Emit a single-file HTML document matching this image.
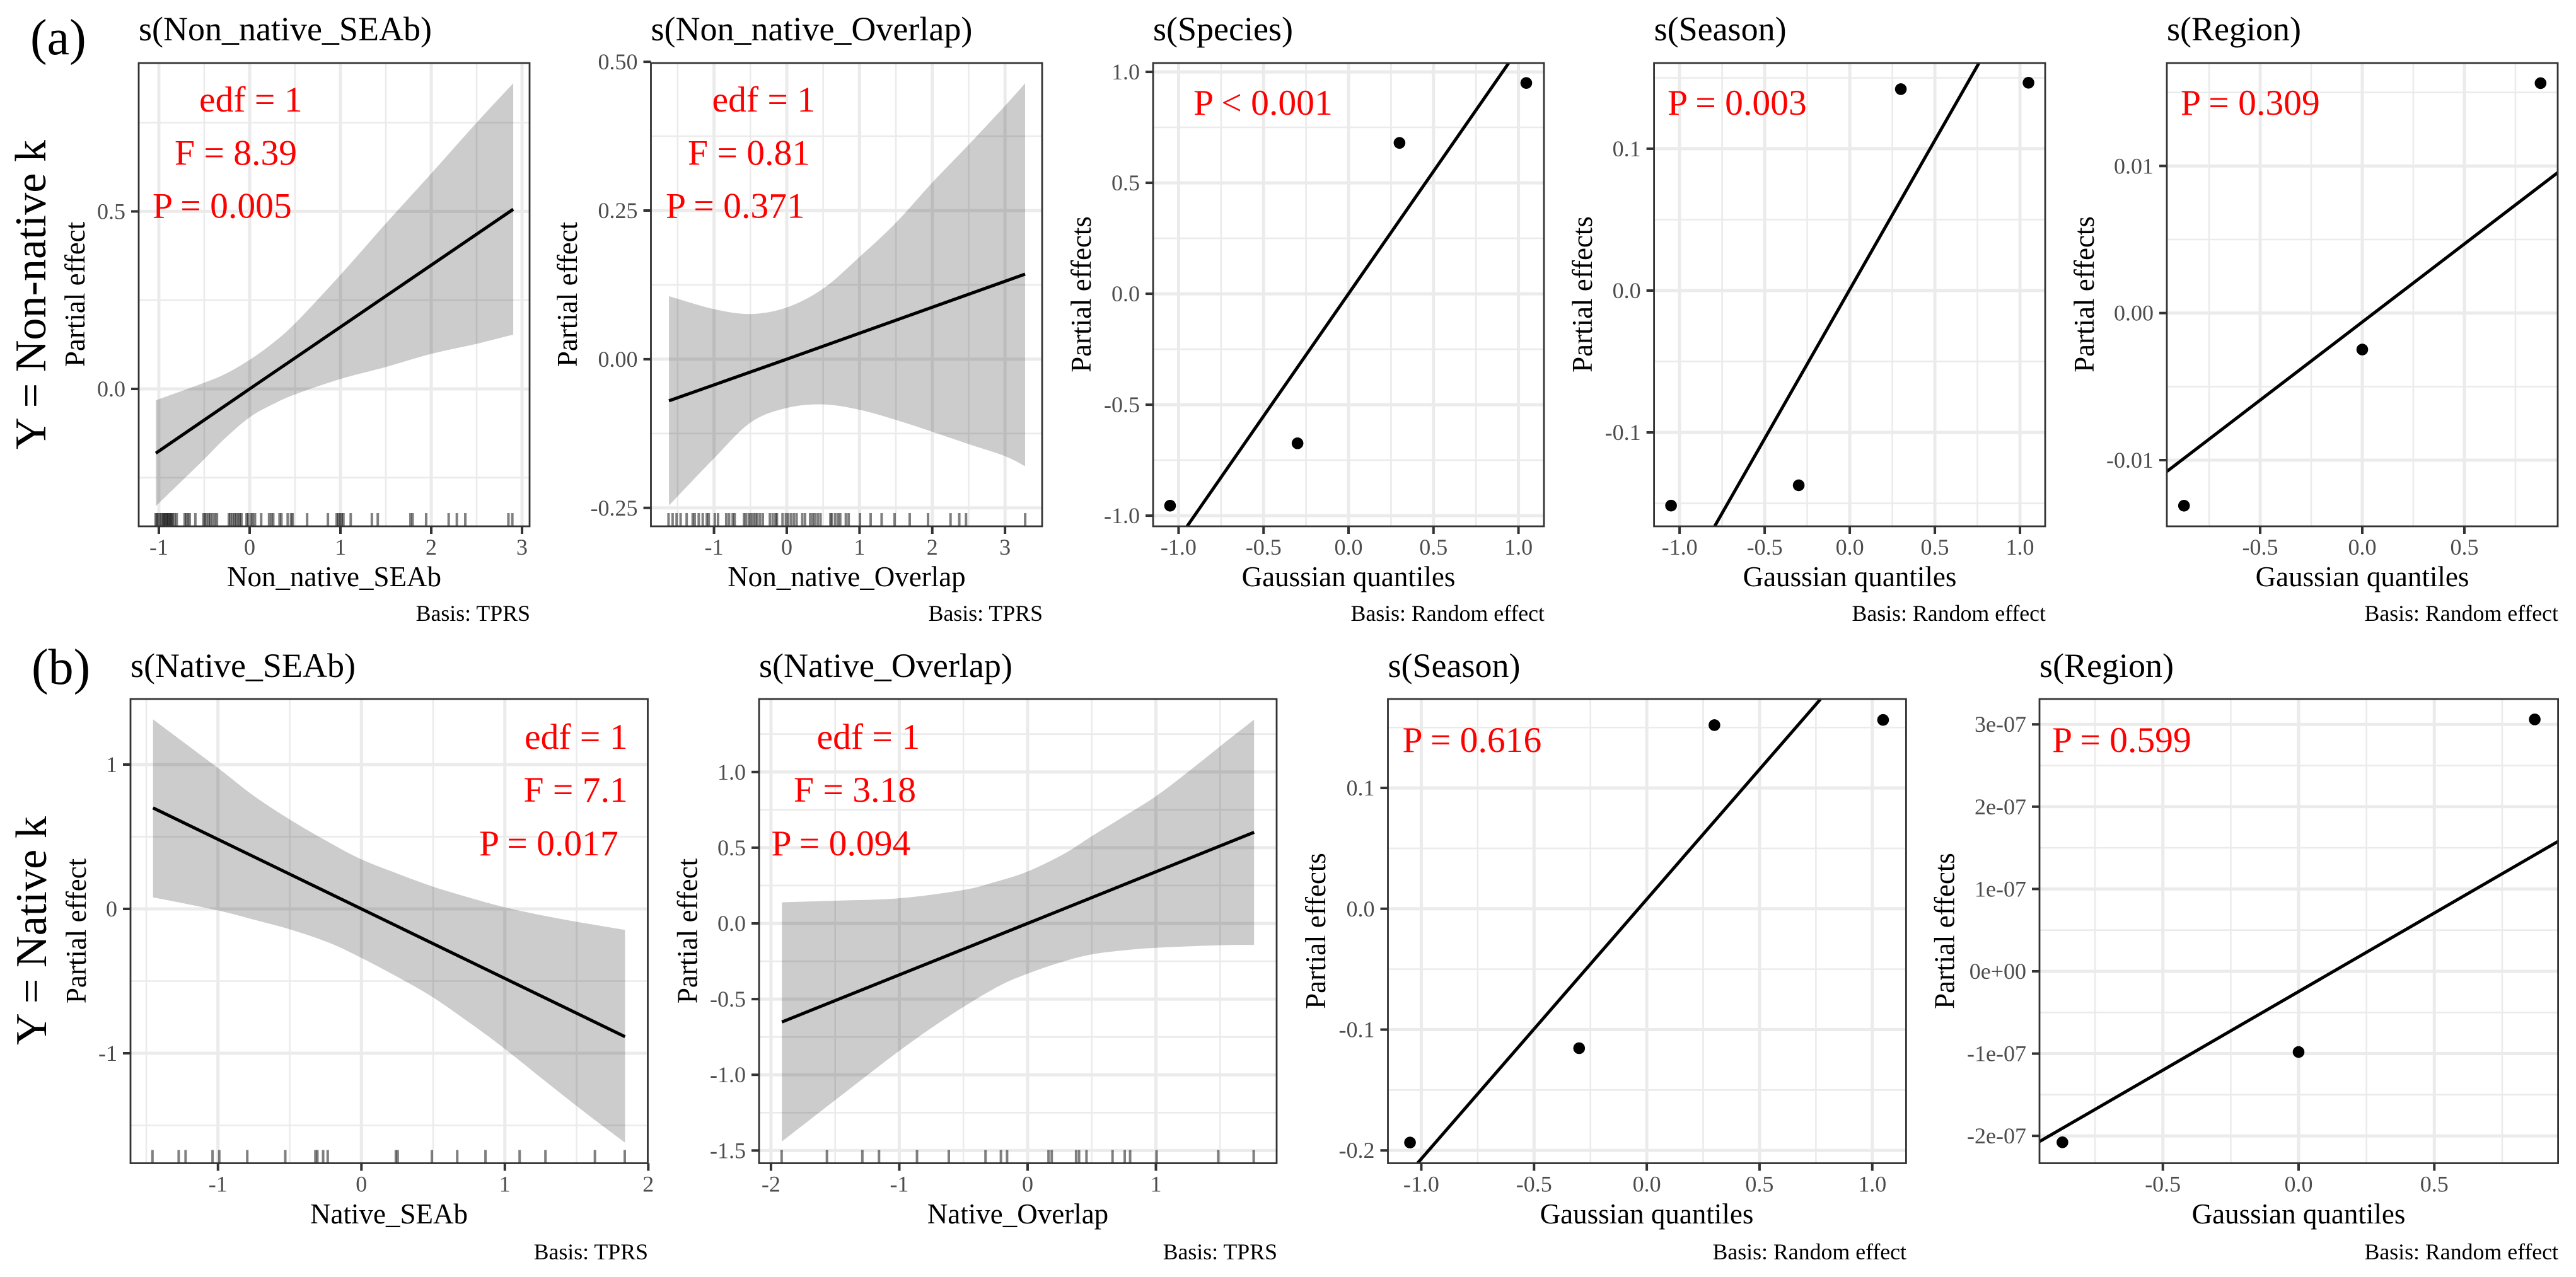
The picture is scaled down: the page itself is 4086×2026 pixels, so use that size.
<!DOCTYPE html>
<html lang="en">
<head>
<meta charset="utf-8">
<title>GAM partial effects</title>
<style>
html,body{margin:0;padding:0;background:#fff;width:4086px;height:2026px;overflow:hidden}
svg{display:block}
text{font-family:"Liberation Serif","Times New Roman",serif}
.ttl{font-size:54px;fill:#000}
.axt{font-size:45px;fill:#000}
.cap{font-size:35.8px;fill:#000;text-anchor:end}
.ann{font-size:57.6px;fill:#ff0000}
.big{font-size:80px;fill:#000}
.row{font-size:70px;fill:#000}
</style>
</head>
<body>
<svg id="figure" xmlns="http://www.w3.org/2000/svg" width="4086" height="2026" viewBox="0 0 4086 2026">
<rect width="4086" height="2026" fill="#fff"/>

<text class="big" x="48" y="86">(a)</text>
<text class="big" x="50" y="1085">(b)</text>
<text class="row" transform="translate(72,713) rotate(-90)" textLength="491" lengthAdjust="spacingAndGlyphs">Y = Non-native k</text>
<text class="row" transform="translate(73,1658) rotate(-90)" textLength="363" lengthAdjust="spacingAndGlyphs">Y = Native k</text>

<g id="p1">
  <g id="p1-marks"></g>
  <text class="ttl" x="220" y="64">s(Non_native_SEAb)</text>
  <text class="axt" x="530" y="930" text-anchor="middle">Non_native_SEAb</text>
  <text class="axt" transform="translate(134,467) rotate(-90)" text-anchor="middle">Partial effect</text>
  <text class="cap" x="841" y="985">Basis: TPRS</text>
  <text class="ann" x="316" y="177">edf = 1</text>
  <text class="ann" x="277" y="261.5">F = 8.39</text>
  <text class="ann" x="242" y="345.7">P = 0.005</text>
</g>

<g id="p2">
  <g id="p2-marks"></g>
  <text class="ttl" x="1032.5" y="64">s(Non_native_Overlap)</text>
  <text class="axt" x="1343" y="930" text-anchor="middle">Non_native_Overlap</text>
  <text class="axt" transform="translate(915,467) rotate(-90)" text-anchor="middle">Partial effect</text>
  <text class="cap" x="1654" y="985">Basis: TPRS</text>
  <text class="ann" x="1129.5" y="177">edf = 1</text>
  <text class="ann" x="1091" y="261.5">F = 0.81</text>
  <text class="ann" x="1056" y="345.7">P = 0.371</text>
</g>

<g id="p3">
  <g id="p3-marks"></g>
  <text class="ttl" x="1829" y="64">s(Species)</text>
  <text class="axt" x="2139" y="930" text-anchor="middle">Gaussian quantiles</text>
  <text class="axt" transform="translate(1730,467) rotate(-90)" text-anchor="middle">Partial effects</text>
  <text class="cap" x="2450" y="985">Basis: Random effect</text>
  <text class="ann" x="1893" y="181.8">P &lt; 0.001</text>
</g>

<g id="p4">
  <g id="p4-marks"></g>
  <text class="ttl" x="2623.6" y="64">s(Season)</text>
  <text class="axt" x="2934" y="930" text-anchor="middle">Gaussian quantiles</text>
  <text class="axt" transform="translate(2525,467) rotate(-90)" text-anchor="middle">Partial effects</text>
  <text class="cap" x="3245" y="985">Basis: Random effect</text>
  <text class="ann" x="2645" y="181.8">P = 0.003</text>
</g>

<g id="p5">
  <g id="p5-marks"></g>
  <text class="ttl" x="3437" y="64">s(Region)</text>
  <text class="axt" x="3747" y="930" text-anchor="middle">Gaussian quantiles</text>
  <text class="axt" transform="translate(3321,467) rotate(-90)" text-anchor="middle">Partial effects</text>
  <text class="cap" x="4058" y="985">Basis: Random effect</text>
  <text class="ann" x="3459" y="181.8">P = 0.309</text>
</g>

<g id="p6">
  <g id="p6-marks"></g>
  <text class="ttl" x="207" y="1074">s(Native_SEAb)</text>
  <text class="axt" x="617" y="1941" text-anchor="middle">Native_SEAb</text>
  <text class="axt" transform="translate(136,1477) rotate(-90)" text-anchor="middle">Partial effect</text>
  <text class="cap" x="1028" y="1998">Basis: TPRS</text>
  <text class="ann" x="832" y="1188">edf = 1</text>
  <text class="ann" x="830.5" y="1272">F = 7.1</text>
  <text class="ann" x="760" y="1357">P = 0.017</text>
</g>

<g id="p7">
  <g id="p7-marks"></g>
  <text class="ttl" x="1204" y="1074">s(Native_Overlap)</text>
  <text class="axt" x="1614.5" y="1941" text-anchor="middle">Native_Overlap</text>
  <text class="axt" transform="translate(1105.5,1477) rotate(-90)" text-anchor="middle">Partial effect</text>
  <text class="cap" x="2026" y="1998">Basis: TPRS</text>
  <text class="ann" x="1295.5" y="1188">edf = 1</text>
  <text class="ann" x="1259" y="1272">F = 3.18</text>
  <text class="ann" x="1223.5" y="1357">P = 0.094</text>
</g>

<g id="p8">
  <g id="p8-marks"></g>
  <text class="ttl" x="2201.5" y="1074">s(Season)</text>
  <text class="axt" x="2612" y="1941" text-anchor="middle">Gaussian quantiles</text>
  <text class="axt" transform="translate(2102,1477) rotate(-90)" text-anchor="middle">Partial effects</text>
  <text class="cap" x="3024" y="1998">Basis: Random effect</text>
  <text class="ann" x="2224.5" y="1193">P = 0.616</text>
</g>

<g id="p9">
  <g id="p9-marks"></g>
  <text class="ttl" x="3235" y="1074">s(Region)</text>
  <text class="axt" x="3646" y="1941" text-anchor="middle">Gaussian quantiles</text>
  <text class="axt" transform="translate(3099.5,1477) rotate(-90)" text-anchor="middle">Partial effects</text>
  <text class="cap" x="4058" y="1998">Basis: Random effect</text>
  <text class="ann" x="3255" y="1193">P = 0.599</text>
</g>
</svg>

<script>
// ---- Panel 1: s(Non_native_SEAb)
const p1XTicks = [-1, 0, 1, 2, 3];
const p1XTickLabels = ['-1', '0', '1', '2', '3'];
const p1XMinor = [-0.5, 0.5, 1.5, 2.5];
const p1YTicks = [0, 0.5];
const p1YTickLabels = ['0.0', '0.5'];
const p1YMinor = [-0.25, 0.25, 0.75];
const p1BandX = [-1.033, -0.536, -0.27, 0, 0.25, 0.505, 1.002, 1.503, 2.004, 2.5, 2.903];
const p1BandUpper = [-0.032, 0.014, 0.042, 0.082, 0.128, 0.186, 0.322, 0.467, 0.608, 0.75, 0.861];
const p1BandLower = [-0.33, -0.207, -0.139, -0.08, -0.044, -0.015, 0.028, 0.062, 0.099, 0.127, 0.153];
const p1LineX = [-1.033, 0, 2.903];
const p1LineY = [-0.181, 0, 0.506];
const p1Rug = [-1.036,-1.023,-1.008,-0.989,-0.971,-0.955,-0.943,-0.933,-0.918,-0.909,-0.896,-0.884,-0.871,-0.859,-0.847,-0.825,-0.803,-0.716,-0.698,-0.679,-0.66,-0.598,-0.509,-0.493,-0.474,-0.45,-0.431,-0.406,-0.381,-0.36,-0.229,-0.211,-0.189,-0.167,-0.149,-0.127,-0.109,-0.09,-0.034,-0.016,0.016,0.034,0.059,0.127,0.214,0.239,0.26,0.329,0.35,0.419,0.456,0.474,0.633,0.862,0.958,0.977,0.995,1.014,1.033,1.113,1.346,1.411,1.771,1.795,1.944,2.192,2.282,2.375,2.85,2.893];

// ---- Panel 2: s(Non_native_Overlap)
const p2XTicks = [-1, 0, 1, 2, 3];
const p2XTickLabels = ['-1', '0', '1', '2', '3'];
const p2XMinor = [-1.5, -0.5, 0.5, 1.5, 2.5];
const p2YTicks = [-0.25, 0, 0.25, 0.5];
const p2YTickLabels = ['-0.25', '0.00', '0.25', '0.50'];
const p2YMinor = [-0.125, 0.125, 0.375];
const p2BandX = [-1.619, -0.994, -0.492, 0, 0.503, 1, 1.497, 2, 2.503, 3, 3.276];
const p2BandUpper = [0.106, 0.084, 0.076, 0.087, 0.119, 0.172, 0.229, 0.297, 0.361, 0.426, 0.464];
const p2BandLower = [-0.246, -0.166, -0.106, -0.082, -0.076, -0.085, -0.102, -0.122, -0.143, -0.163, -0.18];
const p2LineX = [-1.619, 0, 3.276];
const p2LineY = [-0.07, 0, 0.143];
const p2Rug = [-1.625,-1.569,-1.514,-1.459,-1.376,-1.293,-1.265,-1.21,-1.155,-1.099,-1.072,-0.989,-0.945,-0.832,-0.793,-0.743,-0.716,-0.588,-0.561,-0.522,-0.495,-0.464,-0.433,-0.406,-0.368,-0.329,-0.232,-0.193,-0.155,-0.135,-0.058,-0.012,0.019,0.058,0.097,0.135,0.213,0.251,0.321,0.356,0.387,0.426,0.464,0.6,0.619,0.665,0.704,0.735,0.812,0.851,1.006,1.153,1.304,1.482,1.69,1.942,2.251,2.371,2.464,3.277];

// ---- Panel 3: s(Species)
const p3XTicks = [-1, -0.5, 0, 0.5, 1];
const p3XTickLabels = ['-1.0', '-0.5', '0.0', '0.5', '1.0'];
const p3XMinor = [-0.75, -0.25, 0.25, 0.75];
const p3YTicks = [-1, -0.5, 0, 0.5, 1];
const p3YTickLabels = ['-1.0', '-0.5', '0.0', '0.5', '1.0'];
const p3YMinor = [-0.75, -0.25, 0.25, 0.75];
const p3PointX = [-1.05, -0.3, 0.3, 1.046];
const p3PointY = [-0.955, -0.674, 0.68, 0.95];
const p3LineX = [-0.95, 0.9425];
const p3LineY = [-1.048, 1.04];

// ---- Panel 4: s(Season), row a
const p4XTicks = [-1, -0.5, 0, 0.5, 1];
const p4XTickLabels = ['-1.0', '-0.5', '0.0', '0.5', '1.0'];
const p4XMinor = [-0.75, -0.25, 0.25, 0.75];
const p4YTicks = [-0.1, 0, 0.1];
const p4YTickLabels = ['-0.1', '0.0', '0.1'];
const p4YMinor = [-0.15, -0.05, 0.05, 0.15];
const p4PointX = [-1.05, -0.3, 0.3, 1.05];
const p4PointY = [-0.1516, -0.1373, 0.142, 0.1465];
const p4LineX = [-0.793, 0.759];
const p4LineY = [-0.166, 0.1604];

// ---- Panel 5: s(Region), row a
const p5XTicks = [-0.5, 0, 0.5];
const p5XTickLabels = ['-0.5', '0.0', '0.5'];
const p5XMinor = [-0.75, -0.25, 0.25, 0.75];
const p5YTicks = [-0.01, 0, 0.01];
const p5YTickLabels = ['-0.01', '0.00', '0.01'];
const p5YMinor = [-0.005, 0.005, 0.015];
const p5PointX = [-0.873, 0, 0.873];
const p5PointY = [-0.0131, -0.00248, 0.01563];
const p5LineX = [-0.957, 0.957];
const p5LineY = [-0.01077, 0.00955];

// ---- Panel 6: s(Native_SEAb)
const p6XTicks = [-1, 0, 1, 2];
const p6XTickLabels = ['-1', '0', '1', '2'];
const p6XMinor = [-1.5, -0.5, 0.5, 1.5];
const p6YTicks = [-1, 0, 1];
const p6YTickLabels = ['-1', '0', '1'];
const p6YMinor = [-1.5, -0.5, 0.5];
const p6BandX = [-1.453, -1, -0.753, -0.488, -0.224, 0, 0.247, 0.497, 0.747, 1, 1.306, 1.6, 1.838];
const p6BandUpper = [1.313, 0.976, 0.785, 0.612, 0.46, 0.343, 0.246, 0.155, 0.08, 0.011, -0.054, -0.106, -0.146];
const p6BandLower = [0.08, -0.011, -0.074, -0.145, -0.235, -0.34, -0.469, -0.612, -0.784, -0.97, -1.213, -1.442, -1.619];
const p6LineX = [-1.453, 0, 1.838];
const p6LineY = [0.7, 0, -0.885];
const p6Rug = [-1.457,-1.274,-1.226,-1.038,-0.991,-0.796,-0.531,-0.321,-0.307,-0.267,-0.235,0.24,0.253,0.491,0.668,0.865,1.103,1.283,1.628,1.836];

// ---- Panel 7: s(Native_Overlap)
const p7XTicks = [-2, -1, 0, 1];
const p7XTickLabels = ['-2', '-1', '0', '1'];
const p7XMinor = [-1.5, -0.5, 0.5, 1.5];
const p7YTicks = [-1.5, -1, -0.5, 0, 0.5, 1];
const p7YTickLabels = ['-1.5', '-1.0', '-0.5', '0.0', '0.5', '1.0'];
const p7YMinor = [-1.25, -0.75, -0.25, 0.25, 0.75, 1.25];
const p7BandUpperX = [-1.915, -1.502, -1, -0.498, -0.248, 0, 0.285, 0.498, 0.749, 1, 1.257, 1.508, 1.765];
const p7BandUpper = [0.139, 0.15, 0.166, 0.221, 0.275, 0.343, 0.46, 0.575, 0.706, 0.84, 1.005, 1.175, 1.346];
const p7BandLowerX = [-1.915, -1.502, -1, -0.624, -0.248, 0, 0.285, 0.498, 0.749, 1, 1.508, 1.765];
const p7BandLower = [-1.441, -1.169, -0.842, -0.619, -0.425, -0.332, -0.25, -0.205, -0.178, -0.161, -0.144, -0.142];
const p7LineX = [-1.915, 0, 1.765];
const p7LineY = [-0.651, 0, 0.602];
const p7Rug = [-1.917,-1.564,-1.288,-1.158,-0.862,-0.614,-0.328,-0.208,-0.16,0.163,0.188,0.378,0.401,0.459,0.662,0.757,0.799,1.005,1.486,1.762];

// ---- Panel 8: s(Season), row b
const p8XTicks = [-1, -0.5, 0, 0.5, 1];
const p8XTickLabels = ['-1.0', '-0.5', '0.0', '0.5', '1.0'];
const p8XMinor = [-0.75, -0.25, 0.25, 0.75];
const p8YTicks = [-0.2, -0.1, 0, 0.1];
const p8YTickLabels = ['-0.2', '-0.1', '0.0', '0.1'];
const p8YMinor = [-0.15, -0.05, 0.05, 0.15];
const p8PointX = [-1.05, -0.3, 0.3, 1.048];
const p8PointY = [-0.1935, -0.1154, 0.152, 0.1563];
const p8LineX = [-1.017, 0.77];
const p8LineY = [-0.2106, 0.1734];

// ---- Panel 9: s(Region), row b
const p9XTicks = [-0.5, 0, 0.5];
const p9XTickLabels = ['-0.5', '0.0', '0.5'];
const p9XMinor = [-0.75, -0.25, 0.25, 0.75];
const p9YTicks = [-2e-7, -1e-7, 0, 1e-7, 2e-7, 3e-7];
const p9YTickLabels = ['-2e-07', '-1e-07', '0e+00', '1e-07', '2e-07', '3e-07'];
const p9YMinor = [-1.5e-7, -0.5e-7, 0.5e-7, 1.5e-7, 2.5e-7];
const p9PointX = [-0.87, 0, 0.87];
const p9PointY = [-2.078e-7, -0.981e-7, 3.06e-7];
const p9LineX = [-0.954, 0.9555];
const p9LineY = [-2.068e-7, 1.577e-7];

const SVG_NS = 'http://www.w3.org/2000/svg';
function mk(parent, tag, attrs) {
  const el = document.createElementNS(SVG_NS, tag);
  for (const k in attrs) el.setAttribute(k, attrs[k]);
  parent.appendChild(el);
  return el;
}
function spline(pts) {
  // Catmull-Rom through points, returned as path commands (without leading M)
  let d = '';
  for (let i = 0; i < pts.length - 1; i++) {
    const p0 = pts[Math.max(i - 1, 0)], p1 = pts[i], p2 = pts[i + 1], p3 = pts[Math.min(i + 2, pts.length - 1)];
    const c1x = p1[0] + (p2[0] - p0[0]) / 6, c1y = p1[1] + (p2[1] - p0[1]) / 6;
    const c2x = p2[0] - (p3[0] - p1[0]) / 6, c2y = p2[1] - (p3[1] - p1[1]) / 6;
    d += 'C' + c1x.toFixed(1) + ' ' + c1y.toFixed(1) + ' ' + c2x.toFixed(1) + ' ' + c2y.toFixed(1) + ' ' + p2[0].toFixed(1) + ' ' + p2[1].toFixed(1);
  }
  return d;
}

function renderPanel(cfg) {
  const root = document.getElementById(cfg.id + '-marks');
  const L = cfg.box[0], R = cfg.box[1], T = cfg.box[2], B = cfg.box[3];
  const sx = v => L + (v - cfg.xDomain[0]) / (cfg.xDomain[1] - cfg.xDomain[0]) * (R - L);
  const sy = v => B - (v - cfg.yDomain[0]) / (cfg.yDomain[1] - cfg.yDomain[0]) * (B - T);

  const clip = mk(root, 'clipPath', { id: cfg.id + '-clip' });
  mk(clip, 'rect', { x: L, y: T, width: R - L, height: B - T });
  const plot = mk(root, 'g', { 'clip-path': 'url(#' + cfg.id + '-clip)' });

  cfg.yMinor.forEach(v => {
    const g = mk(plot, 'line', { x1: L, x2: R, y1: sy(v), y2: sy(v), stroke: '#ebebeb', 'stroke-width': 2.6 });
    
    
  });
  cfg.xMinor.forEach(v => {
    const g = mk(plot, 'line', { x1: sx(v), x2: sx(v), y1: T, y2: B, stroke: '#ebebeb', 'stroke-width': 2.6 });
    
    
  });
  cfg.yTicks.forEach(v => {
    const g = mk(plot, 'line', { x1: L, x2: R, y1: sy(v), y2: sy(v), stroke: '#ebebeb', 'stroke-width': 5 });
    
    
  });
  cfg.xTicks.forEach(v => {
    const g = mk(plot, 'line', { x1: sx(v), x2: sx(v), y1: T, y2: B, stroke: '#ebebeb', 'stroke-width': 5 });
    
    
  });

  if (cfg.upper) {
    const up = cfg.upper.map((v, i) => [sx(cfg.upperX[i]), sy(v)]);
    const lo = cfg.lower.map((v, i) => [sx(cfg.lowerX[i]), sy(v)]).reverse();
    const d = 'M' + up[0][0].toFixed(1) + ' ' + up[0][1].toFixed(1) + spline(up) +
      'L' + lo[0][0].toFixed(1) + ' ' + lo[0][1].toFixed(1) + spline(lo) + 'Z';
    const band = mk(plot, 'path', { d: d, fill: '#000', 'fill-opacity': 0.2 });
    
    
  }
  if (cfg.rug) {
    cfg.rug.forEach(v => {
      const r = mk(plot, 'line', { x1: sx(v), x2: sx(v), y1: B - 21, y2: B, stroke: '#000', 'stroke-opacity': 0.5, 'stroke-width': 4 });
      
      
    });
  }
  const linePts = cfg.lineX.map((v, i) => sx(v).toFixed(1) + ',' + sy(cfg.lineY[i]).toFixed(1)).join(' ');
  const line = mk(plot, 'polyline', { points: linePts, fill: 'none', stroke: '#000', 'stroke-width': 5 });
  
  

  if (cfg.pointX) {
    cfg.pointX.forEach((v, i) => {
      const c = mk(plot, 'circle', { cx: sx(v), cy: sy(cfg.pointY[i]), r: 9.3, fill: '#000' });
      
      
    });
  }

  const border = mk(root, 'rect', { x: L, y: T, width: R - L, height: B - T, fill: 'none', stroke: '#333', 'stroke-width': 2.8 });
  
  

  cfg.xTicks.forEach((v, i) => {
    const t = mk(root, 'line', { x1: sx(v), x2: sx(v), y1: B, y2: B + 12, stroke: '#333', 'stroke-width': 4 });
    
    
    const lab = mk(root, 'text', { x: sx(v), y: B + 45, 'text-anchor': 'middle', 'font-size': 36, fill: '#4d4d4d' });
    lab.textContent = cfg.xLabels[i];
    
    
  });
  cfg.yTicks.forEach((v, i) => {
    const t = mk(root, 'line', { x1: L - 12, x2: L, y1: sy(v), y2: sy(v), stroke: '#333', 'stroke-width': 4 });
    
    
    const lab = mk(root, 'text', { x: L - 21, y: sy(v) + 12, 'text-anchor': 'end', 'font-size': 36, fill: '#4d4d4d' });
    lab.textContent = cfg.yLabels[i];
    
    
  });
}

renderPanel({ id: 'p1', box: [220, 840, 100, 835], xDomain: [-1.222, 3.083], yDomain: [-0.387, 0.918],
  xTicks: p1XTicks, xLabels: p1XTickLabels, xMinor: p1XMinor, yTicks: p1YTicks, yLabels: p1YTickLabels, yMinor: p1YMinor,
  upperX: p1BandX, upper: p1BandUpper, lowerX: p1BandX, lower: p1BandLower, lineX: p1LineX, lineY: p1LineY, rug: p1Rug });
renderPanel({ id: 'p2', box: [1032.5, 1653, 100, 835], xDomain: [-1.867, 3.51], yDomain: [-0.281, 0.498],
  xTicks: p2XTicks, xLabels: p2XTickLabels, xMinor: p2XMinor, yTicks: p2YTicks, yLabels: p2YTickLabels, yMinor: p2YMinor,
  upperX: p2BandX, upper: p2BandUpper, lowerX: p2BandX, lower: p2BandLower, lineX: p2LineX, lineY: p2LineY, rug: p2Rug });
renderPanel({ id: 'p3', box: [1829, 2449, 100, 835], xDomain: [-1.15, 1.15], yDomain: [-1.048, 1.04],
  xTicks: p3XTicks, xLabels: p3XTickLabels, xMinor: p3XMinor, yTicks: p3YTicks, yLabels: p3YTickLabels, yMinor: p3YMinor,
  pointX: p3PointX, pointY: p3PointY, lineX: p3LineX, lineY: p3LineY });
renderPanel({ id: 'p4', box: [2623.6, 3244, 100, 835], xDomain: [-1.15, 1.148], yDomain: [-0.1662, 0.1604],
  xTicks: p4XTicks, xLabels: p4XTickLabels, xMinor: p4XMinor, yTicks: p4YTicks, yLabels: p4YTickLabels, yMinor: p4YMinor,
  pointX: p4PointX, pointY: p4PointY, lineX: p4LineX, lineY: p4LineY });
renderPanel({ id: 'p5', box: [3437, 4057, 100, 835], xDomain: [-0.957, 0.957], yDomain: [-0.0145, 0.017],
  xTicks: p5XTicks, xLabels: p5XTickLabels, xMinor: p5XMinor, yTicks: p5YTicks, yLabels: p5YTickLabels, yMinor: p5YMinor,
  pointX: p5PointX, pointY: p5PointY, lineX: p5LineX, lineY: p5LineY });
renderPanel({ id: 'p6', box: [207, 1027.5, 1109, 1845.5], xDomain: [-1.61, 1.9965], yDomain: [-1.762, 1.454],
  xTicks: p6XTicks, xLabels: p6XTickLabels, xMinor: p6XMinor, yTicks: p6YTicks, yLabels: p6YTickLabels, yMinor: p6YMinor,
  upperX: p6BandX, upper: p6BandUpper, lowerX: p6BandX, lower: p6BandLower, lineX: p6LineX, lineY: p6LineY, rug: p6Rug });
renderPanel({ id: 'p7', box: [1204, 2025, 1109, 1845.5], xDomain: [-2.093, 1.941], yDomain: [-1.584, 1.482],
  xTicks: p7XTicks, xLabels: p7XTickLabels, xMinor: p7XMinor, yTicks: p7YTicks, yLabels: p7YTickLabels, yMinor: p7YMinor,
  upperX: p7BandUpperX, upper: p7BandUpper, lowerX: p7BandLowerX, lower: p7BandLower, lineX: p7LineX, lineY: p7LineY, rug: p7Rug });
renderPanel({ id: 'p8', box: [2201.5, 3023.4, 1109, 1845.5], xDomain: [-1.148, 1.15], yDomain: [-0.2106, 0.1736],
  xTicks: p8XTicks, xLabels: p8XTickLabels, xMinor: p8XMinor, yTicks: p8YTicks, yLabels: p8YTickLabels, yMinor: p8YMinor,
  pointX: p8PointX, pointY: p8PointY, lineX: p8LineX, lineY: p8LineY });
renderPanel({ id: 'p9', box: [3235, 4057.6, 1109, 1845.5], xDomain: [-0.9545, 0.956], yDomain: [-2.332e-7, 3.308e-7],
  xTicks: p9XTicks, xLabels: p9XTickLabels, xMinor: p9XMinor, yTicks: p9YTicks, yLabels: p9YTickLabels, yMinor: p9YMinor,
  pointX: p9PointX, pointY: p9PointY, lineX: p9LineX, lineY: p9LineY });
</script>
</body>
</html>
